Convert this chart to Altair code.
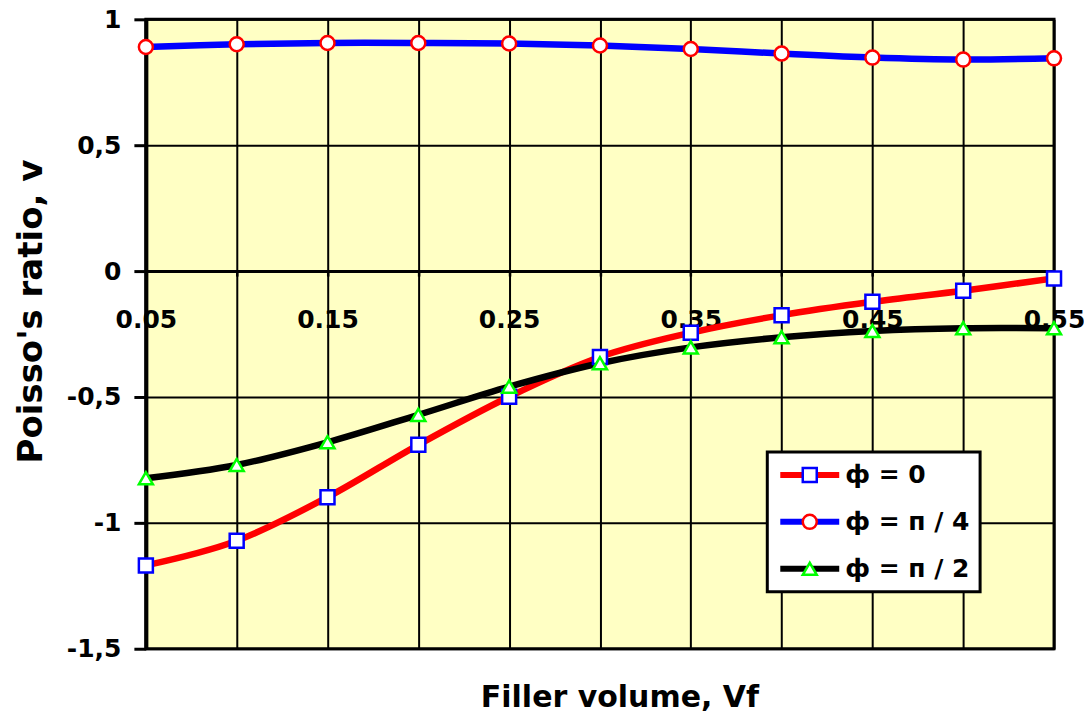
import json
import altair as alt
import pandas as pd

# ---- data ----
VF = [0.05, 0.10, 0.15, 0.20, 0.25, 0.30, 0.35, 0.40, 0.45, 0.50, 0.55]
SERIES = ["ф = 0", "ф = п / 4", "ф = п / 2"]
NU_PHI_0 = [-1.169, -1.071, -0.898, -0.690, -0.499, -0.341, -0.245, -0.175, -0.122, -0.078, -0.029]
NU_PHI_PI4 = [0.890, 0.901, 0.906, 0.906, 0.904, 0.896, 0.882, 0.864, 0.848, 0.840, 0.845]
NU_PHI_PI2 = [-0.823, -0.770, -0.680, -0.571, -0.459, -0.366, -0.303, -0.263, -0.238, -0.227, -0.227]

Y_TICKS = [-1.5, -1.0, -0.5, 0.0, 0.5, 1.0]
X_TICKS = [0.05, 0.10, 0.15, 0.20, 0.25, 0.30, 0.35, 0.40, 0.45, 0.50, 0.55]
X_LABELS = ["0.05", "0.15", "0.25", "0.35", "0.45", "0.55"]

LINE_COLORS = ["#FF0000", "#0000FF", "#000000"]
MARKER_COLORS = ["#0000FF", "#FF0000", "#00FF00"]
MARKER_SHAPES = ["square", "circle", "triangle-up"]

FONT = "DejaVu Sans"

rows = []
for name, vals in zip(SERIES, [NU_PHI_0, NU_PHI_PI4, NU_PHI_PI2]):
    for x, y in zip(VF, vals):
        rows.append({"vf": x, "nu": y, "series": name})
df = pd.DataFrame(rows)

# marker legend keys differ (trailing space) so Vega-Lite keeps it apart from the line legend
SERIES_M = [s + " " for s in SERIES]

x_label_expr = (
    "indexof(" + json.dumps(X_LABELS) + ", format(datum.value, '.2f')) >= 0 ? "
    "format(datum.value, '.2f') : ''"
)

x_enc = alt.X(
    "vf:Q",
    scale=alt.Scale(domain=[0.05, 0.55], nice=False, zero=False),
    axis=alt.Axis(
        values=X_TICKS, labelExpr=x_label_expr,
        grid=True, gridColor="black", gridWidth=2, gridOpacity=1,
        domainColor="black", domainWidth=3,
        ticks=True, tickSize=5, tickWidth=2.5, tickColor="black",
        labelFont=FONT, labelFontSize=25, labelFontWeight="bold", labelColor="black",
        labelPadding=31, labelFlush=False, labelOverlap=False,
        offset=-378,
        title="Filler volume, Vf", titleFont=FONT, titleFontSize=30,
        titleFontWeight="bold", titleColor="black",
        titleX=474, titleY=427, titleBaseline="middle", titleAlign="center",
    ),
)
y_enc = alt.Y(
    "nu:Q",
    scale=alt.Scale(domain=[-1.5, 1.0], nice=False, zero=False),
    axis=alt.Axis(
        values=Y_TICKS, labelExpr="replace(toString(datum.value), '.', ',')",
        grid=True, gridColor="black", gridWidth=2, gridOpacity=1,
        domainColor="black", domainWidth=4,
        ticks=True, tickSize=12, tickWidth=3, tickColor="black",
        labelFont=FONT, labelFontSize=25, labelFontWeight="bold", labelColor="black",
        labelPadding=13, labelOverlap=False, labelFlush=False,
        title="Poisso's ratio, v", titleFont=FONT, titleFontSize=34,
        titleFontWeight="bold", titleColor="black",
        titleX=-114, titleY=292, titleBaseline="middle", titleAlign="center", titleAngle=270,
    ),
)

line_legend = alt.Legend(
    title=None, orient="none", legendX=622, legendY=433,
    symbolType="M-1,0L1,0", symbolSize=3481, symbolStrokeWidth=6,
    clipHeight=26, rowPadding=21, padding=10, labelOffset=3,
    labelFont=FONT, labelFontSize=25, labelFontWeight="bold", labelColor="black",
    fillColor="white", strokeColor="black", zindex=1,
)
marker_legend = alt.Legend(
    title=None, orient="none", legendX=641.5, legendY=433,
    symbolSize=196, symbolStrokeWidth=2.5, symbolFillColor="white", symbolOpacity=1,
    clipHeight=26, rowPadding=21, padding=10, labelOffset=3,
    labelFont=FONT, labelFontSize=26, labelFontWeight="bold", labelExpr="''",
    zindex=2,
)

lines = alt.Chart(df).mark_line(
    interpolate="cardinal", strokeWidth=6.5, strokeCap="round", strokeJoin="round"
).encode(
    x=x_enc, y=y_enc,
    color=alt.Color("series:N", scale=alt.Scale(domain=SERIES, range=LINE_COLORS), legend=line_legend),
)

points = alt.Chart(df).transform_calculate(series_m="datum.series + ' '").mark_point(
    size=196, strokeWidth=2.5, fill="white", opacity=1
).encode(
    x=x_enc, y=y_enc,
    stroke=alt.Stroke("series_m:N", scale=alt.Scale(domain=SERIES_M, range=MARKER_COLORS), legend=marker_legend),
    shape=alt.Shape("series_m:N", scale=alt.Scale(domain=SERIES_M, range=MARKER_SHAPES), legend=marker_legend),
)

chart = alt.layer(lines, points).properties(
    width=909, height=630,
    autosize=alt.AutoSizeParams(type="none"),
    padding={"left": 138, "top": 11, "right": 30, "bottom": 70},
    background="white",
).configure_view(fill="#FFFFC4", stroke="black", strokeWidth=3).configure_legend(strokeWidth=3)

chart.save("out.html", embed_options={"renderer": "svg", "actions": False})
